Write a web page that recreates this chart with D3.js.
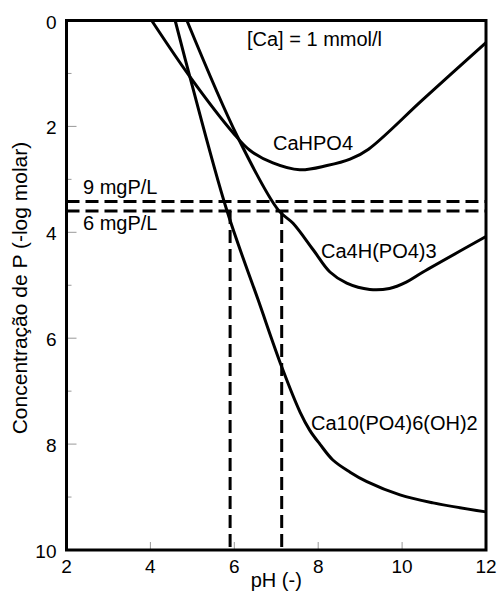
<!DOCTYPE html>
<html>
<head>
<meta charset="utf-8">
<script src="https://cdn.jsdelivr.net/npm/d3@7"></script>
<style>
  html, body { margin: 0; padding: 0; background: #fff; }
  svg { display: block; font-family: "Liberation Sans", Arial, sans-serif; }
</style>
</head>
<body>
<div id="chart"></div>
<script>
// Phosphate solubility vs pH, [Ca] = 1 mmol/l
const phTicks = [2, 4, 6, 8, 10, 12];
const logTicks = [0, 2, 4, 6, 8, 10];
const logMinorTicks = [1, 3, 5, 7, 9];

// [pH, -log molar]
const cahpo4 = [[4.03, 0], [4.94, 1.06], [5.97, 2.12], [6.37, 2.45], [6.92, 2.69], [7.56, 2.82],
  [8.21, 2.74], [8.76, 2.62], [9.2, 2.43], [10.5, 1.49], [12, 0.42]];
const ca4h = [[4.87, 0], [6.08, 2.2], [7.05, 3.58], [7.40, 3.83], [7.88, 4.33], [8.28, 4.75],
  [8.68, 4.96], [9.23, 5.08], [9.7, 5.06], [10.1, 4.94], [10.50, 4.75], [12, 4.08]];
const ca10 = [[4.59, 0], [4.94, 1.06], [5.82, 3.58], [6.57, 5.28], [7.13, 6.54], [7.57, 7.40],
  [7.80, 7.74], [8.04, 8.0], [8.35, 8.3], [8.76, 8.53], [9.16, 8.71], [9.95, 8.96],
  [10.74, 9.11], [12, 9.28]];

// limit lines
const limitNames = ['9 mgP/L', '6 mgP/L'];
const limitValues = [3.42, 3.60];
const crossingPh = [5.90, 7.13];

(function(){
  const width = 499, height = 601;
  const margin = {top: 20.5, right: 13, bottom: 51, left: 66.5};
  const innerWidth = width - margin.left - margin.right;
  const innerHeight = height - margin.top - margin.bottom;

  const svg = d3.select('#chart').append('svg')
    .attr('width', width).attr('height', height);
  const plot = svg.append('g').attr('transform', `translate(${margin.left},${margin.top})`);

  const x = d3.scaleLinear().domain([2, 12]).range([0, innerWidth]);
  const y = d3.scaleLinear().domain([0, 10]).range([0, innerHeight]);

  // Inward gray ticks
  const ticks = plot.append('g').attr('stroke', '#999').attr('stroke-width', 1);
  ticks.selectAll('line.xt').data(phTicks).join('line')
    .attr('x1', d => x(d)).attr('x2', d => x(d))
    .attr('y1', innerHeight).attr('y2', innerHeight - 8);
  ticks.selectAll('line.ym').data(logTicks).join('line')
    .attr('x1', 0).attr('x2', 10)
    .attr('y1', d => y(d)).attr('y2', d => y(d));
  ticks.selectAll('line.yn').data(logMinorTicks).join('line')
    .attr('x1', 0).attr('x2', 5)
    .attr('y1', d => y(d)).attr('y2', d => y(d));

  // Tick labels
  plot.selectAll('text.xl').data(phTicks).join('text')
    .attr('x', d => x(d)).attr('y', innerHeight + 23)
    .attr('text-anchor', 'middle').attr('font-size', 19)
    .text(d => d);
  plot.selectAll('text.yl').data(logTicks).join('text')
    .attr('x', -10).attr('y', d => y(d) + 8)
    .attr('text-anchor', 'end').attr('font-size', 19)
    .text(d => d);

  // Limit lines
  const dash = '13,6';
  plot.selectAll('line.limit').data(limitValues).join('line')
    .attr('x1', 0).attr('x2', innerWidth)
    .attr('y1', d => y(d)).attr('y2', d => y(d))
    .attr('stroke', '#000').attr('stroke-width', 3).attr('stroke-dasharray', dash);
  plot.selectAll('line.cross').data(crossingPh).join('line')
    .attr('x1', d => x(d)).attr('x2', d => x(d))
    .attr('y1', y(limitValues[1])).attr('y2', innerHeight)
    .attr('stroke', '#000').attr('stroke-width', 3).attr('stroke-dasharray', dash);

  // Solubility curves
  const line = d3.line().x(d => x(d[0])).y(d => y(d[1])).curve(d3.curveCatmullRom.alpha(0.5));
  plot.selectAll('path.curve').data([cahpo4, ca4h, ca10]).join('path')
    .attr('d', line)
    .attr('fill', 'none').attr('stroke', '#000').attr('stroke-width', 3)
    .attr('stroke-linejoin', 'round');

  // Frame
  plot.append('rect')
    .attr('width', innerWidth).attr('height', innerHeight)
    .attr('fill', 'none').attr('stroke', '#000').attr('stroke-width', 3);

  // Annotations (pixel positions)
  const notes = [
    {t: '[Ca] = 1 mmol/l', x: 247, y: 46},
    {t: 'CaHPO4', x: 273, y: 150},
    {t: 'Ca4H(PO4)3', x: 321, y: 258},
    {t: 'Ca10(PO4)6(OH)2', x: 311, y: 430},
    {t: limitNames[0], x: 83, y: 194},
    {t: limitNames[1], x: 83, y: 230}
  ];
  svg.selectAll('text.note').data(notes).join('text')
    .attr('x', d => d.x).attr('y', d => d.y)
    .attr('font-size', 20)
    .text(d => d.t);

  // Axis titles
  svg.append('text')
    .attr('x', margin.left + innerWidth / 2).attr('y', 587)
    .attr('text-anchor', 'middle').attr('font-size', 20)
    .text('pH (-)');
  svg.append('text')
    .attr('transform', 'translate(27,288) rotate(-90)')
    .attr('text-anchor', 'middle').attr('font-size', 21)
    .text('Concentração de P (-log molar)');
})();
</script>
</body>
</html>
